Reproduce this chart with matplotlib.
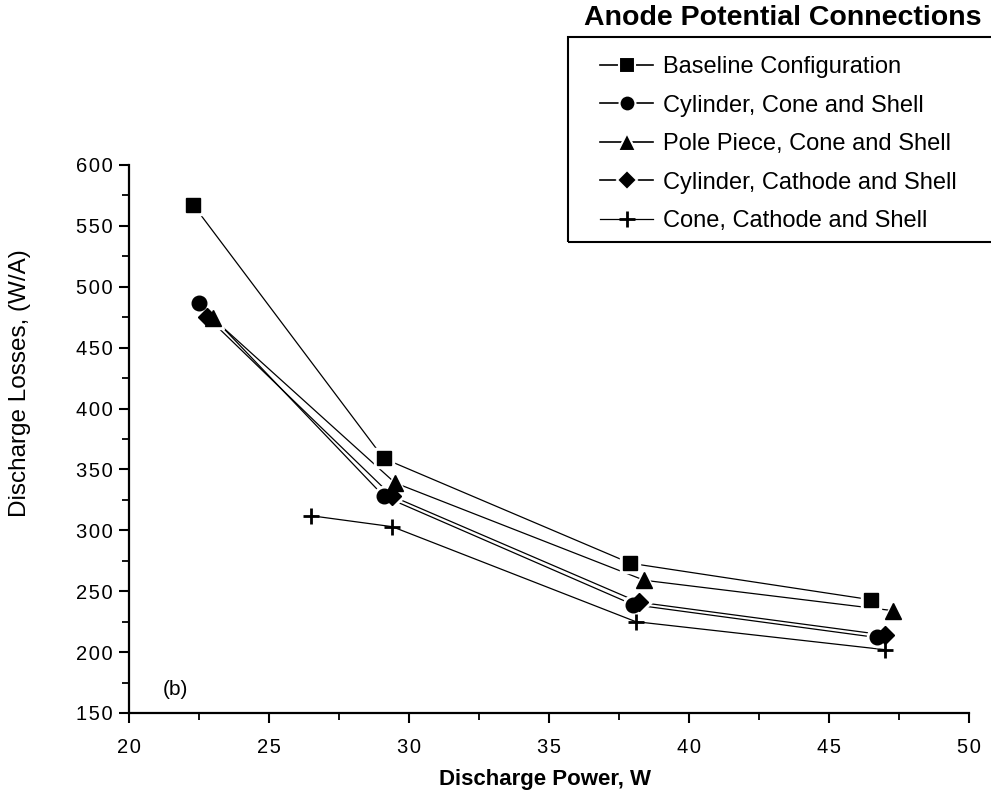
import matplotlib
matplotlib.use("Agg")
import matplotlib.pyplot as plt
from matplotlib.ticker import MultipleLocator, FuncFormatter
from matplotlib.patches import Rectangle
from matplotlib.lines import Line2D

plt.rcParams['font.family'] = ['Liberation Sans', 'DejaVu Sans']

# ---- data ----
labels = ["Baseline Configuration",
          "Cylinder, Cone and Shell",
          "Pole Piece, Cone and Shell",
          "Cylinder, Cathode and Shell",
          "Cone, Cathode and Shell"]
markers = ["s", "o", "^", "D", "+"]

baseline_x = [22.3, 29.1, 37.9, 46.5]
baseline_y = [567, 359, 273, 243]
cyl_cone_x = [22.5, 29.1, 38.0, 46.7]
cyl_cone_y = [487, 328, 239, 212]
pole_x = [23.0, 29.5, 38.4, 47.3]
pole_y = [474, 339, 259, 234]
cyl_cath_x = [22.8, 29.4, 38.2, 47.0]
cyl_cath_y = [475, 328, 241, 214]
cone_cath_x = [26.5, 29.4, 38.1, 47.0]
cone_cath_y = [312, 303, 225, 202]

series_x = [baseline_x, cyl_cone_x, pole_x, cyl_cath_x, cone_cath_x]
series_y = [baseline_y, cyl_cone_y, pole_y, cyl_cath_y, cone_cath_y]

x_ticks = [20, 25, 30, 35, 40, 45, 50]
y_ticks = [150, 200, 250, 300, 350, 400, 450, 500, 550, 600]

W, H = 991, 794
fig = plt.figure(figsize=(W / 100, H / 100), dpi=100)
ax = fig.add_axes([129 / W, 1 - 713 / H, (969 - 129) / W, (713 - 165) / H])

msizes = {"s": 10, "o": 10.5, "^": 11.5, "D": 9.5, "+": 11}
for xs, ys, m in zip(series_x, series_y, markers):
    ax.plot(xs, ys, color="black", lw=0.9, zorder=2, clip_on=False)
    if m != "+":
        ax.plot(xs, ys, ls="none", marker=m, ms=msizes[m] + 4, mfc="white",
                mec="white", zorder=3, clip_on=False)
        ax.plot(xs, ys, ls="none", marker=m, ms=msizes[m], mfc="black",
                mec="black", zorder=4, clip_on=False)
    else:
        ax.plot(xs, ys, ls="none", marker=m, ms=msizes[m], mec="black",
                mew=2, zorder=4, clip_on=False)

ax.set_xlim(20, 50)
ax.set_ylim(150, 600)
ax.set_xticks(x_ticks)
ax.set_yticks(y_ticks)
ax.xaxis.set_minor_locator(MultipleLocator(2.5))
ax.yaxis.set_minor_locator(MultipleLocator(25))

spaced = FuncFormatter(lambda v, p: "\u200a".join(str(int(v))))
ax.xaxis.set_major_formatter(spaced)
ax.yaxis.set_major_formatter(spaced)

for s in ["top", "right"]:
    ax.spines[s].set_visible(False)
for s in ["left", "bottom"]:
    ax.spines[s].set_linewidth(1.6)
ax.tick_params(which="major", direction="out", length=7, width=1.5,
               labelsize=14.5)
ax.tick_params(axis="x", which="major", pad=11)
ax.tick_params(axis="y", which="major", pad=5)
ax.tick_params(which="minor", direction="out", length=5, width=1.3)

fig.text(545 / W, 1 - 780 / H, "Discharge Power, W", fontsize=16,
         fontweight="bold", ha="center", va="center")
fig.text(20 / W, 1 - 383 / H, "Discharge Losses, (W/A)", fontsize=17.5,
         rotation=90, ha="center", va="center")

ax.text(21.2, 169, "(b)", fontsize=15, va="center", ha="left")

# legend box
fig.patches.append(Rectangle((568 / W, 1 - 242 / H), (1000 - 568) / W, (242 - 37) / H,
                             transform=fig.transFigure, fill=False,
                             edgecolor="black", lw=1.5))
fig.text(783 / W, 1 - 18 / H, "Anode Potential Connections", fontsize=20.5,
         fontweight="bold", ha="center", va="center")

handles = []
for m in markers:
    if m == "+":
        h = Line2D([], [], color="black", lw=0.9, marker=m, ms=11, mew=2)
    else:
        h = Line2D([], [], color="black", lw=1.2, marker=m, ms=msizes[m] * 0.9 + 2,
                   mfc="black", mec="white", mew=1.5)
    handles.append(h)
fig.legend(handles, labels, loc="upper left",
           bbox_to_anchor=(600 / W, 1 - 56 / H), frameon=False,
           fontsize=17, handlelength=2.25, handletextpad=0.42,
           labelspacing=0.70, borderaxespad=0, borderpad=0)

fig.savefig("out.png", dpi=100)
